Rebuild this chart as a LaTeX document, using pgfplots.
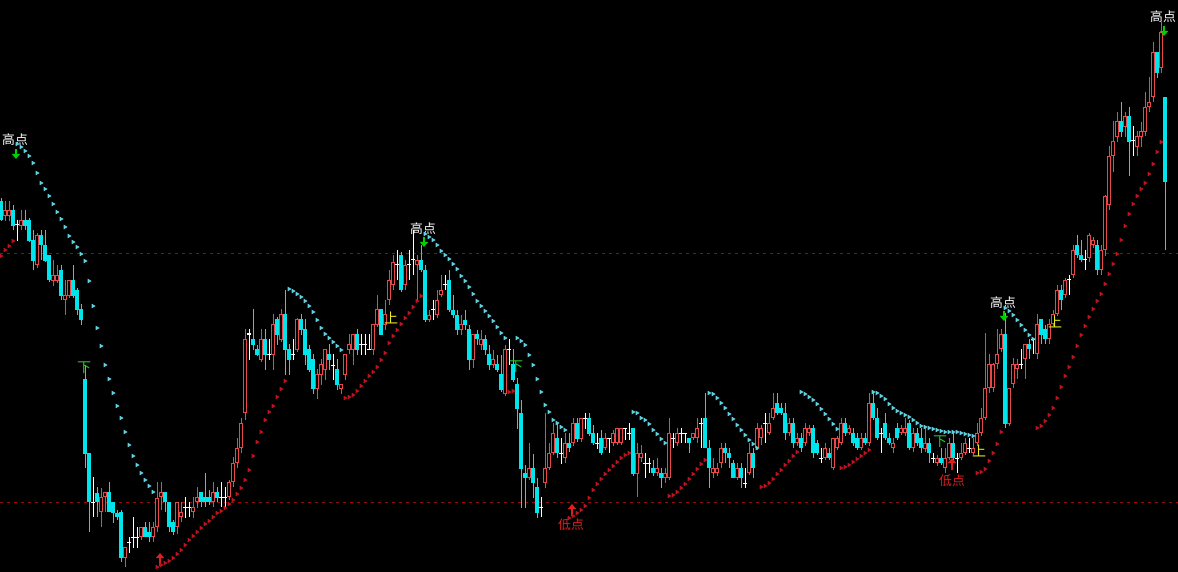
\documentclass[border=0pt]{standalone}
\usepackage{pgfplots}
\usepackage{pgfplotstable}
\pgfplotsset{compat=1.18}
\usepackage{fontspec}
\newfontfamily\cjk{Noto Sans CJK SC}
\usetikzlibrary{arrows.meta}
\definecolor{cred}{RGB}{232,72,72}
\definecolor{ccyan}{RGB}{0,228,235}
\definecolor{sarcyan}{RGB}{95,210,225}
\definecolor{sarred}{RGB}{190,20,30}
\definecolor{dline}{RGB}{150,10,10}
\definecolor{ylw}{RGB}{235,235,40}
\definecolor{grn}{RGB}{40,200,40}
\definecolor{arrgrn}{RGB}{0,210,0}
\definecolor{lowred}{RGB}{225,30,30}
\pgfplotstableread{
k o h l c
0 201 198 221 220
1 216 201 221 210
2 216 201 221 210
3 210 205 230 226
4 225 220 241 225
5 226 210 230 220
6 220 210 230 226
7 220 218 242 241
8 240 230 270 261
9 265 233 268 235
10 235 230 260 245
11 245 230 262 261
12 255 255 282 280
13 281 260 286 275
14 281 265 283 275
15 270 265 300 296
16 300 280 315 295
17 296 280 298 280
18 280 265 298 296
19 290 288 315 310
20 309 304 325 320
21 379 365 468 454
22 453 453 532 502
23 502 477 517 502
24 493 487 517 502
25 512 488 527 497
26 497 492 512 492
27 492 482 512 512
28 502 502 523 513
29 513 510 520 517
30 512 510 562 558
31 558 547 567 547
32 542 537 553 542
33 537 517 548 537
34 537 527 548 537
35 537 527 540 527
36 527 522 537 537
37 532 522 542 537
38 537 522 542 527
39 527 482 532 498
40 497 482 510 492
41 492 492 512 502
42 502 502 532 527
43 522 520 535 532
44 527 502 534 502
45 517 502 522 512
46 507 497 518 507
47 507 502 517 507
48 512 497 518 507
49 502 487 508 497
50 492 492 507 502
51 497 473 507 502
52 497 490 505 502
53 502 482 507 492
54 492 487 502 498
55 497 482 507 497
56 497 487 507 497
57 497 480 500 482
58 482 457 487 463
59 463 438 468 448
60 448 418 453 423
61 413 329 420 339
62 334 329 360 334
63 339 309 350 345
64 349 345 356 355
65 360 329 362 339
66 339 329 370 355
67 354 339 360 354
68 355 314 370 324
69 319 317 345 335
70 340 309 342 314
71 314 290 375 350
72 349 344 375 360
73 354 339 360 354
74 350 318 352 319
75 319 314 335 330
76 329 319 365 355
77 349 345 372 370
78 359 354 394 389
79 389 369 399 374
80 375 359 385 364
81 370 349 380 349
82 354 344 370 360
83 365 354 380 365
84 369 359 390 385
85 389 384 394 384
86 375 354 380 354
87 350 334 354 344
88 350 334 365 334
89 334 329 355 350
90 344 334 355 344
91 344 334 355 344
92 349 334 350 349
93 350 324 355 324
94 325 295 327 309
95 309 309 335 335
96 325 300 330 314
97 300 270 305 280
98 285 255 290 262
99 265 250 280 265
100 255 252 292 290
101 285 260 290 265
102 265 250 280 265
103 260 230 275 260
104 265 255 300 260
105 260 245 272 270
106 270 265 322 320
107 320 310 322 315
108 310 300 320 310
109 315 290 318 300
110 295 275 297 290
111 285 275 290 285
112 280 270 312 310
113 310 295 318 315
114 315 310 335 330
115 330 315 335 324
116 320 310 330 325
117 329 325 370 360
118 360 334 368 334
119 334 330 345 339
120 345 330 350 339
121 339 335 355 350
122 354 345 370 365
123 365 350 368 359
124 364 355 372 370
125 374 355 392 390
126 394 345 396 349
127 349 339 365 349
128 364 349 382 380
129 384 378 429 409
130 413 400 508 469
131 473 465 508 478
132 478 443 480 468
133 468 454 498 483
134 487 478 518 513
135 507 497 517 507
136 483 413 488 468
137 468 443 470 453
138 453 423 455 433
139 438 423 458 453
140 453 438 464 453
141 458 433 463 443
142 443 433 452 448
143 443 418 446 423
144 423 418 442 439
145 439 418 442 418
146 418 413 429 418
147 418 413 436 434
148 433 425 445 443
149 443 433 449 443
150 438 430 455 453
151 448 433 450 438
152 438 438 453 438
153 443 430 446 433
154 443 428 445 428
155 443 428 445 428
156 428 428 440 428
157 433 423 440 433
158 428 428 476 474
159 474 443 497 453
160 458 445 462 453
161 463 453 478 463
162 463 458 473 463
163 468 460 476 473
164 473 458 476 468
165 473 468 488 478
166 478 468 483 473
167 478 418 480 433
168 438 433 448 438
169 443 428 446 433
170 433 428 443 433
171 433 433 443 433
172 438 438 453 443
173 438 433 440 433
174 438 418 443 428
175 423 418 448 423
176 418 393 448 448
177 448 440 488 468
178 473 458 478 468
179 473 463 476 468
180 463 443 468 448
181 448 443 463 453
182 453 448 468 458
183 463 460 478 478
184 478 463 480 468
185 468 463 488 478
186 483 468 488 483
187 473 443 475 453
188 453 448 478 468
189 448 423 450 428
190 438 425 445 428
191 423 413 443 423
192 433 413 435 423
193 418 393 420 408
194 403 393 415 413
195 408 403 415 413
196 413 403 440 433
197 433 418 436 423
198 423 418 448 443
199 443 433 446 438
200 438 433 452 448
201 443 423 446 428
202 433 425 436 428
203 428 425 458 453
204 443 440 455 453
205 458 448 463 458
206 458 443 460 448
207 453 448 460 458
208 468 438 470 438
209 448 436 450 438
210 443 418 445 423
211 423 418 436 433
212 433 425 435 428
213 433 428 446 443
214 438 433 450 448
215 448 433 450 438
216 438 433 445 443
217 443 393 446 403
218 403 393 420 418
219 418 408 440 438
220 433 428 453 433
221 423 413 440 438
222 438 433 445 443
223 448 438 453 443
224 428 423 440 438
225 433 425 435 428
226 433 418 436 428
227 423 420 450 448
228 448 428 452 433
229 433 428 446 443
230 438 428 453 448
231 449 428 452 443
232 443 438 463 453
233 458 453 463 458
234 463 455 466 458
235 458 448 465 463
236 468 448 473 458
237 458 438 460 443
238 443 433 463 458
239 458 453 473 458
240 458 443 460 453
241 453 438 455 443
242 448 438 453 448
243 453 438 455 448
244 443 423 446 433
245 433 408 436 418
246 418 333 420 388
247 388 354 393 364
248 388 363 392 364
249 364 329 369 354
250 349 329 352 334
251 334 313 428 424
252 424 388 426 388
253 384 358 388 364
254 369 359 379 364
255 364 349 369 364
256 359 344 379 344
257 344 339 359 349
258 339 339 354 339
259 354 314 359 324
260 319 319 344 335
261 329 325 344 339
262 339 319 344 324
263 324 310 326 314
264 314 285 316 290
265 290 285 310 300
266 295 278 298 280
267 280 275 295 280
268 275 245 278 250
269 245 235 258 255
270 255 240 262 260
271 260 250 270 260
272 258 233 262 235
273 245 237 248 240
274 245 240 275 270
275 270 245 275 250
276 250 195 256 196
277 205 146 210 156
278 156 121 172 141
279 137 112 142 121
280 121 102 137 132
281 127 112 137 116
282 116 107 176 142
283 141 126 156 141
284 147 131 156 136
285 137 122 147 131
286 132 92 136 107
287 107 77 112 102
288 97 42 102 52
289 52 52 78 73
290 68 22 73 32
291 97 97 250 182
}\candles
\pgfplotstableread{
k s
4 144
5 147
6 151
7 156
8 163
9 173
10 183
11 189
12 196
13 204
14 212
15 219
16 227
17 236
18 242
19 247
20 254
21 261
22 281
23 306
24 328
25 346
26 365
27 379
28 393
29 406
30 418
31 432
32 445
33 456
34 465
35 473
36 480
37 486
38 492
72 289
73 291
74 294
75 297
76 301
77 306
78 312
79 320
80 328
81 334
82 338
83 342
84 346
85 350
106 234
107 237
108 240
109 245
110 251
111 255
112 259
113 264
114 269
115 276
116 281
117 287
118 294
119 301
120 306
121 311
122 316
123 321
124 327
125 333
126 338
129 338
130 341
131 345
132 355
133 365
134 379
135 392
136 405
137 412
138 420
139 423
140 427
141 430
158 412
159 413
160 418
161 420
162 424
163 430
164 434
165 439
166 443
177 393
178 394
179 398
180 403
181 408
182 414
183 419
184 425
185 430
186 435
187 440
188 444
189 448
200 392
201 394
202 397
203 400
204 404
205 409
206 414
207 419
208 424
209 429
218 392
219 393
220 396
221 399
222 404
223 408
224 411
225 413
226 415
227 417
228 420
229 423
230 426
231 427
232 428
233 429
234 430
235 431
236 432
237 432
238 432
239 432
240 433
241 434
242 435
243 436
251 308
252 311
253 315
254 320
255 325
256 330
257 335
258 339
}\sarC
\pgfplotstableread{
k s
0 256
1 250
2 246
3 241
39 567
40 565
41 563
42 561
43 558
44 554
45 550
46 545
47 540
48 536
49 532
50 528
51 524
52 521
53 517
54 513
55 511
56 508
57 504
58 500
59 494
60 488
61 480
62 470
63 456
64 442
65 432
66 420
67 412
68 406
69 397
70 389
71 381
86 398
87 397
88 395
89 391
90 386
91 381
92 376
93 372
94 367
95 360
96 353
97 343
98 336
99 330
100 324
101 318
102 313
103 307
104 301
105 296
127 392
128 391
142 518
143 516
144 513
145 510
146 506
147 498
148 490
149 484
150 479
151 474
152 470
153 466
154 462
155 458
156 455
157 453
167 496
168 495
169 492
170 488
171 484
172 479
173 474
174 469
175 464
176 460
190 487
191 486
192 483
193 479
194 474
195 470
196 465
197 461
198 456
199 452
210 468
211 467
212 465
213 462
214 459
215 456
216 453
217 450
244 473
245 472
246 469
247 461
248 453
249 444
250 432
259 428
260 426
261 421
262 415
263 408
264 398
265 387
266 376
267 367
268 357
269 346
270 335
271 326
272 317
273 309
274 301
275 294
276 284
277 274
278 264
279 254
280 240
281 226
282 214
283 204
284 196
285 189
286 183
287 174
288 164
289 152
290 142
}\sarR
\begin{document}
\begin{tikzpicture}
\begin{axis}[
  scale only axis, width=589pt, height=286pt,
  xmin=0, xmax=1178, ymin=0, ymax=572, y dir=reverse,
  axis line style={draw=none}, ticks=none,
  axis background/.style={fill=black},
]
% horizontal dashed reference lines
\addplot[dline, line width=0.5pt, dash pattern=on 1.5pt off 2pt] coordinates {(0,254) (1178,254)};
\addplot[dline, line width=0.5pt, dash pattern=on 1.5pt off 2pt] coordinates {(0,502) (1178,502)};
% wicks
\addplot[cred, line width=0.5pt, no marks, quiver={u=0, v=\thisrow{l}-\thisrow{h}},
  restrict expr to domain={\thisrow{o}-\thisrow{c}}{0.5:1000}]
  table[x expr=4*\thisrow{k}+1, y=h] {\candles};
\addplot[ccyan, line width=0.5pt, no marks, quiver={u=0, v=\thisrow{l}-\thisrow{h}},
  restrict expr to domain={\thisrow{c}-\thisrow{o}}{0.5:1000}]
  table[x expr=4*\thisrow{k}+1, y=h] {\candles};
\addplot[white, line width=0.5pt, no marks, quiver={u=0, v=\thisrow{l}-\thisrow{h}},
  restrict expr to domain={\thisrow{c}-\thisrow{o}}{-0.5:0.5}]
  table[x expr=4*\thisrow{k}+1, y=h] {\candles};
% bodies
\addplot[cred, line width=1.8pt, no marks, quiver={u=0, v=\thisrow{o}-\thisrow{c}},
  restrict expr to domain={\thisrow{o}-\thisrow{c}}{0.5:1000}]
  table[x expr=4*\thisrow{k}+1, y=c] {\candles};
\addplot[black, line width=0.8pt, no marks, quiver={u=0, v=\thisrow{o}-\thisrow{c}-2},
  restrict expr to domain={\thisrow{o}-\thisrow{c}}{2.5:1000}]
  table[x expr=4*\thisrow{k}+1, y expr=\thisrow{c}+1] {\candles};
\addplot[ccyan, line width=1.6pt, no marks, quiver={u=0, v=\thisrow{c}-\thisrow{o}},
  restrict expr to domain={\thisrow{c}-\thisrow{o}}{0.5:1000}]
  table[x expr=4*\thisrow{k}+1, y=o] {\candles};
\addplot[white, line width=0.5pt, no marks, quiver={u=4, v=0},
  restrict expr to domain={\thisrow{c}-\thisrow{o}}{-0.5:0.5}]
  table[x expr=4*\thisrow{k}-1, y=o] {\candles};
% SAR dots
\addplot[only marks, mark=triangle*, mark size=0.9pt, color=sarcyan, mark options={rotate=-90}]
  table[x expr=4*\thisrow{k}+1, y=s] {\sarC};
\addplot[only marks, mark=triangle*, mark size=0.9pt, color=sarred, mark options={rotate=-90}]
  table[x expr=4*\thisrow{k}+1, y=s] {\sarR};
% annotations
\tikzset{lab/.style={inner sep=0pt, font=\cjk\fontsize{6.4}{7}\selectfont},
         sym/.style={inner sep=0pt, font=\cjk\fontsize{7}{8}\selectfont}}
\node[lab, text=white] at (axis cs:15,140) {高点};
\node[lab, text=white] at (axis cs:423,229) {高点};
\node[lab, text=white] at (axis cs:1003,303) {高点};
\node[lab, text=white] at (axis cs:1163,17) {高点};
\node[lab, text=lowred] at (axis cs:571,525) {低点};
\node[lab, text=lowred] at (axis cs:952,481) {低点};
\node[sym, text=ylw] at (axis cs:391,318) {上};
\node[sym, text=ylw] at (axis cs:979,451) {上};
\node[sym, text=ylw] at (axis cs:1055,322) {上};
\node[sym, text=grn] at (axis cs:84,368) {下};
\node[sym, text=grn] at (axis cs:516,367) {下};
\node[sym, text=grn] at (axis cs:940,442) {下};
\draw[arrgrn, line width=1pt, -{Triangle[width=4pt,length=2.5pt]}] (axis cs:16,149) -- (axis cs:16,159);
\draw[arrgrn, line width=1pt, -{Triangle[width=4pt,length=2.5pt]}] (axis cs:424,237) -- (axis cs:424,247);
\draw[arrgrn, line width=1pt, -{Triangle[width=4pt,length=2.5pt]}] (axis cs:1004,311) -- (axis cs:1004,321);
\draw[arrgrn, line width=1pt, -{Triangle[width=4pt,length=2.5pt]}] (axis cs:1164,26) -- (axis cs:1164,36);
\draw[lowred, line width=1pt, -{Triangle[width=4pt,length=2.5pt]}] (axis cs:160,566) -- (axis cs:160,553);
\draw[lowred, line width=1pt, -{Triangle[width=4pt,length=2.5pt]}] (axis cs:572,516) -- (axis cs:572,504);
\draw[lowred, line width=1pt, -{Triangle[width=4pt,length=2.5pt]}] (axis cs:952,470) -- (axis cs:952,458);
\end{axis}
\end{tikzpicture}
\end{document}
